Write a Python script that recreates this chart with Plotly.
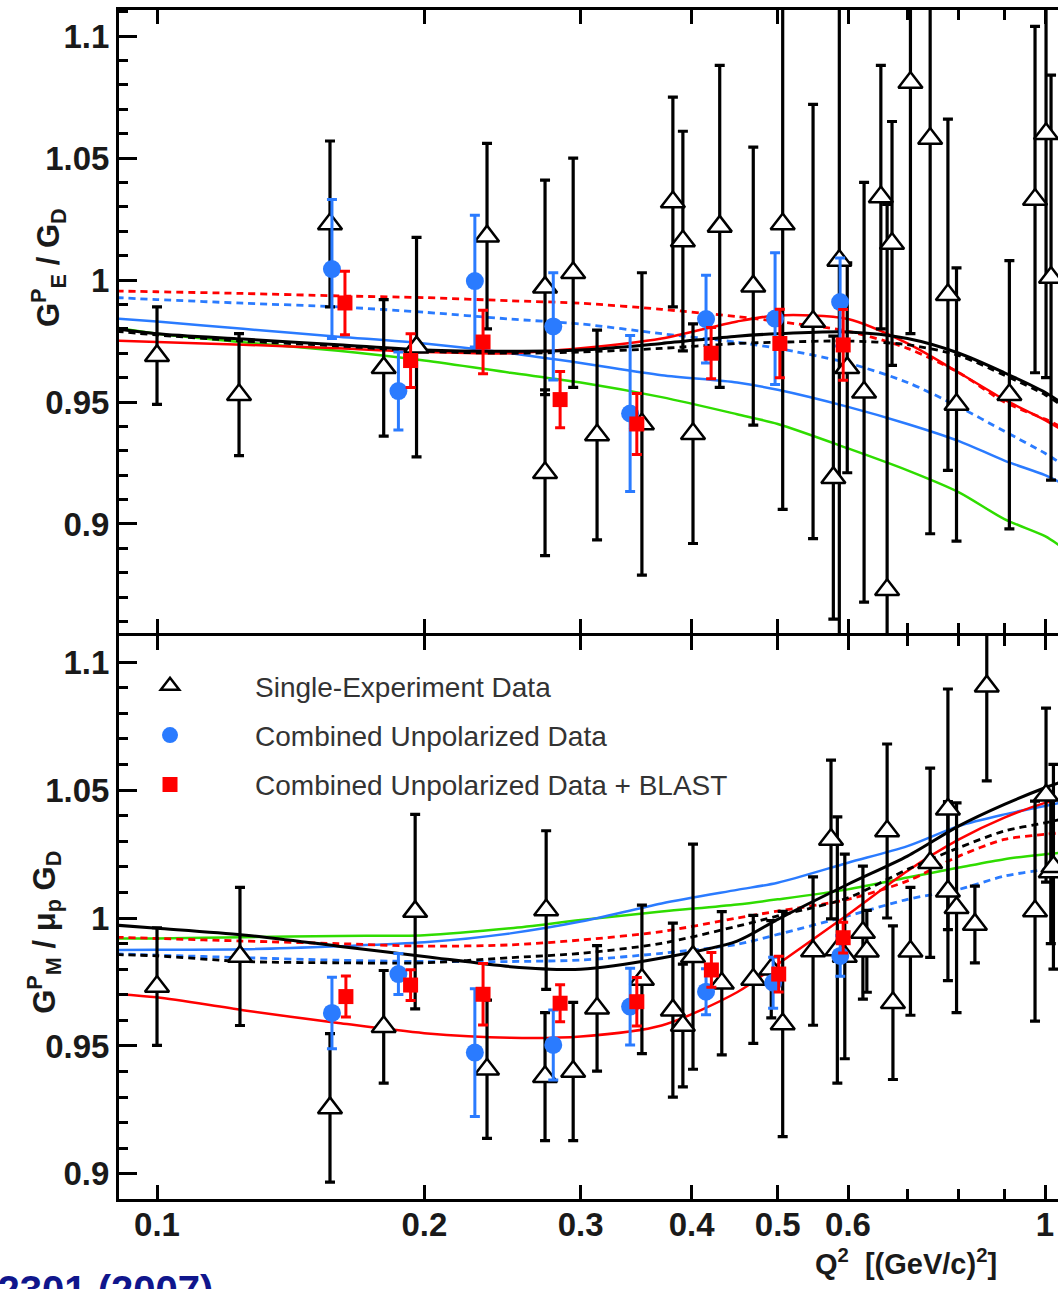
import plotly.graph_objects as go

# ---------------- DATA ----------------
# Top panel: G_E^p / G_D
TRI_E_Q2 = [0.100, 0.1237, 0.1566, 0.180, 0.196, 0.2353, 0.2735, 0.2735, 0.2942, 0.3130, 0.3516,
            0.3810, 0.391, 0.4014, 0.4302, 0.4693, 0.5065, 0.5480, 0.5776, 0.5866, 0.5988, 0.6255,
            0.6533, 0.664, 0.6725, 0.7054, 0.7424, 0.7774, 0.7949, 0.9117, 0.9744, 1.0026, 1.0157]
TRI_E_VAL = [0.969, 0.953, 1.023, 0.964, 0.9725, 1.018, 0.997, 0.921, 1.003, 0.9365, 0.941,
             1.032, 1.016, 0.937, 1.022, 0.9975, 1.023, 0.983, 0.919, 1.008, 0.964, 0.954,
             1.034, 0.873, 1.015, 1.081, 1.058, 0.994, 0.949, 0.953, 1.033, 1.060, 1.001]
TRI_E_ERR = [0.020, 0.025, 0.034, 0.028, 0.045, 0.038, 0.044, 0.034, 0.047, 0.043, 0.062,
             0.043, 0.045, 0.045, 0.066, 0.057, 0.117, 0.089, 0.058, 0.160, 0.043, 0.086,
             0.054, 0.158, 0.050, 0.103, 0.162, 0.072, 0.056, 0.055, 0.071, 0.100, 0.083]

BLUE_E_Q2 = [0.1574, 0.187, 0.228, 0.2794, 0.341, 0.4152, 0.4966, 0.5878]
BLUE_E_VAL = [1.0045, 0.9545, 0.9996, 0.981, 0.9453, 0.984, 0.9842, 0.991]
BLUE_E_ERR = [0.0285, 0.016, 0.027, 0.022, 0.032, 0.018, 0.027, 0.018]

RED_E_Q2 = [0.1628, 0.193, 0.2329, 0.2844, 0.347, 0.4207, 0.5028, 0.5925]
RED_E_VAL = [0.9906, 0.967, 0.9746, 0.951, 0.941, 0.970, 0.974, 0.9734]
RED_E_ERR = [0.013, 0.011, 0.013, 0.0115, 0.0125, 0.0105, 0.014, 0.0145]

# Bottom panel: G_M^p / mu_p G_D
TRI_M_Q2 = [0.100, 0.1240, 0.1566, 0.180, 0.1953, 0.2353, 0.2743, 0.2735, 0.2942, 0.313, 0.3516,
            0.381, 0.391, 0.4014, 0.4325, 0.4693, 0.4917, 0.5065, 0.548, 0.5741, 0.5836, 0.595,
            0.6236, 0.630, 0.664, 0.6741, 0.7054, 0.7424, 0.7774, 0.7774, 0.795, 0.8337, 0.8598,
            0.9744, 1.0026, 1.015, 1.022]
TRI_M_VAL = [0.9732, 0.985, 0.9258, 0.9575, 1.0025, 0.9409, 1.0031, 0.938, 0.940, 0.9647, 0.976,
             0.964, 0.958, 0.9849, 0.9745, 0.976, 0.980, 0.9586, 0.9871, 1.0307, 0.9875, 0.985,
             0.9943, 0.987, 1.034, 0.9669, 0.987, 1.0216, 1.0425, 1.0105, 1.004, 0.9975, 1.0906,
             1.0027, 1.048, 1.018, 1.020]
TRI_M_ERR = [0.023, 0.027, 0.029, 0.022, 0.038, 0.027, 0.031, 0.025, 0.027, 0.0245, 0.029,
             0.034, 0.024, 0.044, 0.028, 0.025, 0.019, 0.044, 0.029, 0.031, 0.052, 0.040,
             0.026, 0.016, 0.034, 0.030, 0.025, 0.037, 0.047, 0.035, 0.041, 0.015, 0.037,
             0.043, 0.034, 0.028, 0.040]

BLUE_M_Q2 = [0.1574, 0.187, 0.228, 0.2794, 0.341, 0.4152, 0.4941, 0.588]
BLUE_M_VAL = [0.9629, 0.9781, 0.9474, 0.9504, 0.9654, 0.9712, 0.9747, 0.9852]
BLUE_M_ERR = [0.014, 0.008, 0.025, 0.0137, 0.015, 0.009, 0.010, 0.008]

RED_M_Q2 = [0.1632, 0.193, 0.2329, 0.2844, 0.347, 0.421, 0.5013, 0.5925]
RED_M_VAL = [0.9693, 0.9738, 0.9702, 0.9667, 0.9673, 0.9797, 0.9781, 0.9923]
RED_M_ERR = [0.008, 0.006, 0.012, 0.0072, 0.0095, 0.0068, 0.007, 0.006]

# Fit curves (common Q2 grid)
Q2_FIT = [0.09, 0.1, 0.125, 0.16, 0.2, 0.25, 0.3, 0.37, 0.45, 0.5, 0.6, 0.7, 0.8, 0.9, 1.0, 1.04]

GE_BLACK = [0.9800, 0.978, 0.9758, 0.9735, 0.9713, 0.9708, 0.9713, 0.974, 0.977, 0.978, 0.9787, 0.976, 0.970, 0.962, 0.954, 0.950]
GE_BLACK_DASH = [0.979, 0.9775, 0.975, 0.973, 0.9708, 0.970, 0.9705, 0.972, 0.974, 0.9745, 0.975, 0.9735, 0.969, 0.961, 0.953, 0.949]
GE_RED = [0.9752, 0.9746, 0.9735, 0.972, 0.9705, 0.970, 0.972, 0.976, 0.983, 0.9855, 0.984, 0.974, 0.962, 0.951, 0.9426, 0.939]
GE_RED_DASH = [0.9955, 0.9952, 0.9945, 0.9935, 0.9928, 0.9915, 0.9905, 0.988, 0.985, 0.983, 0.979, 0.972, 0.962, 0.950, 0.943, 0.940]
GE_BLUE = [0.9842, 0.983, 0.980, 0.9768, 0.974, 0.970, 0.966, 0.961, 0.958, 0.955, 0.948, 0.941, 0.934, 0.926, 0.920, 0.917]
GE_BLUE_DASH = [0.9928, 0.992, 0.9905, 0.989, 0.9868, 0.984, 0.982, 0.978, 0.9745, 0.972, 0.966, 0.958, 0.948, 0.938, 0.929, 0.925]
GE_GREEN = [0.9805, 0.978, 0.9745, 0.971, 0.967, 0.962, 0.958, 0.952, 0.945, 0.941, 0.931, 0.922, 0.913, 0.902, 0.895, 0.891]

GM_BLACK = [0.9972, 0.996, 0.9934, 0.989, 0.985, 0.981, 0.980, 0.9844, 0.991, 0.9995, 1.0132, 1.0242, 1.036, 1.0444, 1.0509, 1.053]
GM_BLACK_DASH = [0.9857, 0.9852, 0.983, 0.9825, 0.9825, 0.9845, 0.9862, 0.9901, 0.9968, 1.0008, 1.0079, 1.019, 1.0275, 1.034, 1.0372, 1.0385]
GM_RED = [0.9703, 0.969, 0.964, 0.959, 0.955, 0.9532, 0.9537, 0.958, 0.971, 0.9819, 1.0014, 1.0184, 1.0307, 1.0392, 1.045, 1.0464]
GM_RED_DASH = [0.9925, 0.992, 0.991, 0.990, 0.989, 0.9895, 0.9914, 0.9947, 1.0, 1.0027, 1.0073, 1.0145, 1.0242, 1.0307, 1.0327, 1.0333]
GM_BLUE = [0.9875, 0.9876, 0.9878, 0.989, 0.9905, 0.994, 0.9986, 1.0057, 1.011, 1.0138, 1.0216, 1.0281, 1.036, 1.0405, 1.0438, 1.045]
GM_BLUE_DASH = [0.986, 0.9855, 0.9845, 0.9835, 0.983, 0.983, 0.9836, 0.9862, 0.9897, 0.9936, 1.0008, 1.0073, 1.0112, 1.0164, 1.019, 1.0203]
GM_GREEN = [0.992, 0.992, 0.9925, 0.993, 0.9933, 0.996, 0.9992, 1.0025, 1.0053, 1.0073, 1.0112, 1.0158, 1.0197, 1.023, 1.0249, 1.0255]

X_TICKS = [0.1, 0.2, 0.3, 0.4, 0.5, 0.6, 1]
X_TICK_TEXT = ["0.1", "0.2", "0.3", "0.4", "0.5", "0.6", "1"]
X_MINOR = [0.7, 0.8, 0.9]
Y_TICKS = [0.9, 0.95, 1.0, 1.05, 1.1]
Y_TICK_TEXT = ["0.9", "0.95", "1", "1.05", "1.1"]

LEGEND_NAMES = ["Single-Experiment Data", "Combined Unpolarized Data", "Combined Unpolarized Data + BLAST"]

# ---------------- STYLE ----------------
BLACK = "#000000"
BLUE = "#2a7bff"
RED = "#ff0000"
GREEN = "#2fdc00"
FONT = "Liberation Sans, Arial, sans-serif"
DASH = "7px,5px"

fig = go.Figure()


def add_curves(ys, xa, ya):
    specs = [
        (ys[6], GREEN, "solid", 2.5),
        (ys[4], BLUE, "solid", 2.5),
        (ys[5], BLUE, DASH, 2.8),
        (ys[2], RED, "solid", 2.5),
        (ys[3], RED, DASH, 2.8),
        (ys[1], BLACK, DASH, 2.8),
        (ys[0], BLACK, "solid", 3),
    ]
    for y, c, d, w in specs:
        fig.add_trace(go.Scatter(x=Q2_FIT, y=y, mode="lines", xaxis=xa, yaxis=ya,
                                 line=dict(color=c, dash=d, width=w, shape="spline", smoothing=0.8),
                                 showlegend=False, hoverinfo="skip"))


def add_points(qt, vt, et, qb, vb, eb, qr, vr, er, xa, ya, legend):
    fig.add_trace(go.Scatter(
        x=qt, y=vt, mode="markers", xaxis=xa, yaxis=ya, name=LEGEND_NAMES[0],
        legendgroup="a", showlegend=legend,
        marker=dict(symbol="triangle-up", size=21, color="white", line=dict(color=BLACK, width=2.5)),
        error_y=dict(type="data", array=et, visible=True, color=BLACK, thickness=3.2, width=5)))
    fig.add_trace(go.Scatter(
        x=qb, y=vb, mode="markers", xaxis=xa, yaxis=ya, name=LEGEND_NAMES[1],
        legendgroup="b", showlegend=legend,
        marker=dict(symbol="circle", size=18, color=BLUE, line=dict(width=0)),
        error_y=dict(type="data", array=eb, visible=True, color=BLUE, thickness=3, width=5)))
    fig.add_trace(go.Scatter(
        x=qr, y=vr, mode="markers", xaxis=xa, yaxis=ya, name=LEGEND_NAMES[2],
        legendgroup="c", showlegend=legend,
        marker=dict(symbol="square", size=15, color=RED, line=dict(width=0)),
        error_y=dict(type="data", array=er, visible=True, color=RED, thickness=3, width=5)))


add_curves([GE_BLACK, GE_BLACK_DASH, GE_RED, GE_RED_DASH, GE_BLUE, GE_BLUE_DASH, GE_GREEN], "x", "y")
add_points(TRI_E_Q2, TRI_E_VAL, TRI_E_ERR, BLUE_E_Q2, BLUE_E_VAL, BLUE_E_ERR,
           RED_E_Q2, RED_E_VAL, RED_E_ERR, "x", "y", False)
add_curves([GM_BLACK, GM_BLACK_DASH, GM_RED, GM_RED_DASH, GM_BLUE, GM_BLUE_DASH, GM_GREEN], "x2", "y2")
add_points(TRI_M_Q2, TRI_M_VAL, TRI_M_ERR, BLUE_M_Q2, BLUE_M_VAL, BLUE_M_ERR,
           RED_M_Q2, RED_M_VAL, RED_M_ERR, "x2", "y2", True)

XR = [-1.0428, 0.0146]
tickfont = dict(family=FONT, size=33, color="#1a1a1a", weight="bold")

xcommon = dict(type="log", range=XR, tickvals=X_TICKS, ticktext=X_TICK_TEXT, ticks="inside",
               ticklen=14, tickwidth=2.5, tickcolor=BLACK, showline=True, linewidth=3,
               linecolor=BLACK, mirror="ticks", showgrid=False, zeroline=False,
               minor=dict(tickvals=X_MINOR, ticks="inside", ticklen=10, tickwidth=2.5, tickcolor=BLACK),
               tickfont=tickfont, ticklabelstandoff=-6)
ycommon = dict(tickvals=Y_TICKS, ticktext=Y_TICK_TEXT, ticks="inside", ticklen=18, tickwidth=2.5,
               tickcolor=BLACK, showline=True, linewidth=3, linecolor=BLACK, mirror=False,
               showgrid=False, zeroline=False,
               minor=dict(dtick=0.01, tick0=0.9, ticks="inside", ticklen=9, tickwidth=2.5, tickcolor=BLACK),
               tickfont=tickfont)

fig.update_layout(
    width=1058, height=1289,
    margin=dict(l=119, r=0, t=10, b=90),
    paper_bgcolor="white", plot_bgcolor="white",
    xaxis=dict(**xcommon, anchor="y", domain=[0, 1], showticklabels=False),
    yaxis=dict(**ycommon, anchor="x", domain=[0.476, 1], range=[0.8553, 1.1107]),
    xaxis2=dict(**xcommon, anchor="y2", domain=[0, 1], matches="x"),
    yaxis2=dict(**ycommon, anchor="x2", domain=[0, 0.4735], range=[0.8902, 1.1102]),
    legend=dict(x=-0.0362, y=0.4525, xanchor="left", yanchor="top", bgcolor="rgba(0,0,0,0)",
                font=dict(family=FONT, size=28, color="#333333"), traceorder="grouped",
                tracegroupgap=10, itemwidth=160),
    showlegend=True,
    font=dict(family=FONT),
)

fig.add_annotation(text="G<sup>P</sup><sub>E</sub> / G<sub>D</sub>", xref="paper", yref="paper",
                   x=-0.0756, y=0.783, xanchor="center", yanchor="middle", textangle=-90,
                   showarrow=False, font=dict(family=FONT, size=31, color="#1a1a1a", weight="bold"))
fig.add_annotation(text="G<sup>P</sup><sub>M</sub> / μ<sub>p</sub> G<sub>D</sub>", xref="paper", yref="paper",
                   x=-0.079, y=0.2246, xanchor="center", yanchor="middle", textangle=-90,
                   showarrow=False, font=dict(family=FONT, size=31, color="#1a1a1a", weight="bold"))
fig.add_annotation(text="Q<sup>2</sup>  [(GeV/c)<sup>2</sup>]", xref="paper", yref="paper",
                   x=0.937, y=-0.053, xanchor="right", yanchor="middle", showarrow=False,
                   font=dict(family=FONT, size=29, color="#1a1a1a", weight="bold"))
fig.add_annotation(text="PRL 98, 052301 (2007)", xref="paper", yref="paper",
                   x=0.1022, y=-0.0563, xanchor="right", yanchor="top", showarrow=False,
                   font=dict(family=FONT, size=40, color="#10168c", weight="bold"))

fig.write_html("out.html")
